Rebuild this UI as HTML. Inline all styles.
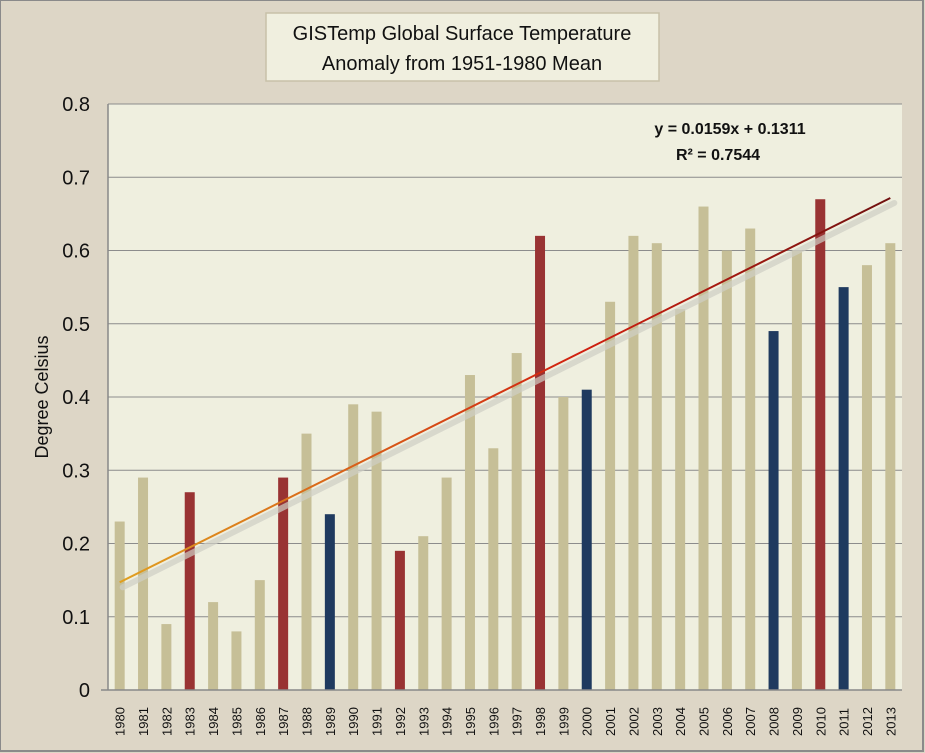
<!DOCTYPE html>
<html><head><meta charset="utf-8"><style>
body{margin:0;background:#ddd6c6;}
svg{display:block;font-family:"Liberation Sans",sans-serif;}
</style></head><body>
<svg id="chart" width="925" height="753">
<rect x="0" y="0" width="923" height="751" fill="#ddd6c6" stroke="#8a8a8a" stroke-width="2"/>
<rect x="108" y="104" width="794" height="586" fill="#efefdf"/>
<g id="grid"></g>
<g id="bars"></g>
<g id="trend"></g>
<g id="xlabels"></g>
<g id="ylabels"></g>
<rect x="266" y="13" width="393" height="68" fill="#f0efdf" stroke="#c8c1a8" stroke-width="1.5"/>
<text x="462" y="40" text-anchor="middle" font-size="20" fill="#111">GISTemp  Global Surface Temperature</text>
<text x="462" y="70" text-anchor="middle" font-size="20" fill="#111">Anomaly from 1951-1980 Mean</text>
<text x="730" y="134" text-anchor="middle" font-size="16" font-weight="bold" fill="#111">y = 0.0159x + 0.1311</text>
<text x="718" y="160" text-anchor="middle" font-size="16" font-weight="bold" fill="#111">R² = 0.7544</text>
<text transform="translate(48,397) rotate(-90)" text-anchor="middle" font-size="18" fill="#111">Degree Celsius</text>
<line x1="108" y1="104" x2="108" y2="690" stroke="#888" stroke-width="1.5"/>
<line x1="101" y1="690" x2="902" y2="690" stroke="#888" stroke-width="1.5"/>
</svg>
<script>
const years=[1980,1981,1982,1983,1984,1985,1986,1987,1988,1989,1990,1991,1992,1993,1994,1995,1996,1997,1998,1999,2000,2001,2002,2003,2004,2005,2006,2007,2008,2009,2010,2011,2012,2013];
const anomalies=[0.23,0.29,0.09,0.27,0.12,0.08,0.15,0.29,0.35,0.24,0.39,0.38,0.19,0.21,0.29,0.43,0.33,0.46,0.62,0.40,0.41,0.53,0.62,0.61,0.52,0.66,0.60,0.63,0.49,0.60,0.67,0.55,0.58,0.61];
const barTypes=["n","n","n","e","n","n","n","e","n","l","n","n","e","n","n","n","n","n","e","n","l","n","n","n","n","n","n","n","l","n","e","l","n","n"];
const yTicks=[0,0.1,0.2,0.3,0.4,0.5,0.6,0.7,0.8];
const trendSlope=0.0159, trendIntercept=0.1311;
const NS='http://www.w3.org/2000/svg';
const L=108,R=902,T=104,B=690,yMax=0.8;
const band=(R-L)/years.length;
const xc=i=>L+band*(i+0.5);
const y=v=>B-(v/yMax)*(B-T);
const colors={n:'#c6bf97',e:'#993333',l:'#1f3a5f'};
function mk(tag,attrs,parent){const e=document.createElementNS(NS,tag);for(const k in attrs)e.setAttribute(k,attrs[k]);document.getElementById(parent).appendChild(e);return e;}
yTicks.forEach(t=>{
  if(t>0){const g=mk('line',{x1:L,x2:R,y1:y(t),y2:y(t),stroke:'#8c8c8c','stroke-width':1},'grid');
  
  }
  const tx=mk('text',{x:90,y:y(t)+7,'text-anchor':'end','font-size':20,fill:'#111'},'ylabels');
  tx.textContent=String(t);
  
  
});
anomalies.forEach((v,i)=>{
  const r=mk('rect',{x:xc(i)-5,y:y(v),width:10,height:B-y(v),fill:colors[barTypes[i]]},'bars');
  
  
  const tx=mk('text',{transform:`translate(${xc(i)+5},736) rotate(-90)`,'font-size':13,fill:'#111'},'xlabels');
  tx.textContent=years[i];
  
  
});
const n=years.length;
const x1=xc(0),x2=xc(n-1),ya=y(trendSlope*1+trendIntercept),yb=y(trendSlope*n+trendIntercept);
const sh=mk('line',{x1:x1+3,y1:ya+5,x2:x2+4,y2:yb+5,stroke:'#cfcfc5','stroke-width':6,'stroke-linecap':'round',opacity:0.7},'trend');


mk('defs',{},'trend').innerHTML='<linearGradient id="tg" x1="0" x2="1" y1="0" y2="0"><stop offset="0" stop-color="#e0a020"/><stop offset="0.6" stop-color="#d02010"/><stop offset="1" stop-color="#701010"/></linearGradient>';
const tl=mk('line',{x1:x1,y1:ya,x2:x2,y2:yb,stroke:'url(#tg)','stroke-width':2},'trend');


</script>
</body></html>
